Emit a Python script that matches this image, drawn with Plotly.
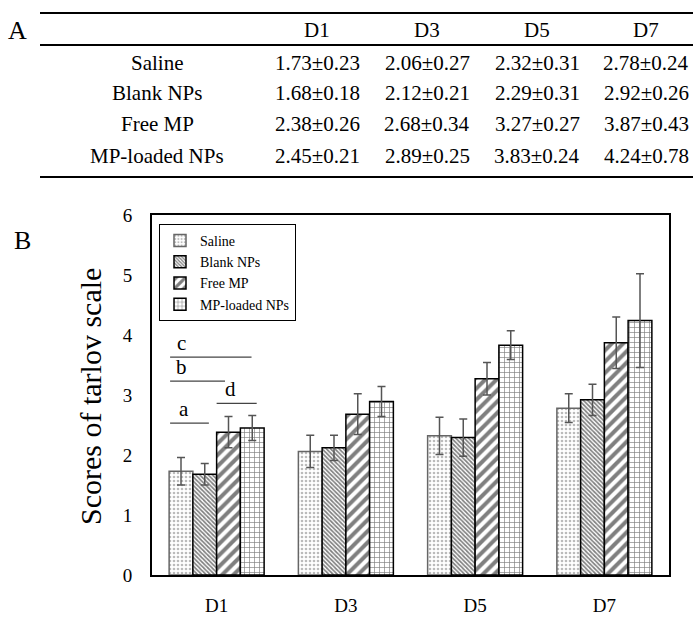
import plotly.graph_objects as go

days = ["D1", "D3", "D5", "D7"]
groups = ["Saline", "Blank NPs", "Free MP", "MP-loaded NPs"]
saline_mean = [1.73, 2.06, 2.32, 2.78]
saline_sd = [0.23, 0.27, 0.31, 0.24]
blank_mean = [1.68, 2.12, 2.29, 2.92]
blank_sd = [0.18, 0.21, 0.31, 0.26]
free_mean = [2.38, 2.68, 3.27, 3.87]
free_sd = [0.26, 0.34, 0.27, 0.43]
loaded_mean = [2.45, 2.89, 3.83, 4.24]
loaded_sd = [0.21, 0.25, 0.24, 0.78]
y_ticks = [0, 1, 2, 3, 4, 5, 6]

means = [saline_mean, blank_mean, free_mean, loaded_mean]
sds = [saline_sd, blank_sd, free_sd, loaded_sd]

W, H = 693, 620
L, R, T, B = 152, 24, 215, 45
PW, PH = W - L - R, H - T - B
FONT = "Liberation Serif"


def px(x):
    return (x - L) / PW


def py(y):
    return (H - B - y) / PH


patterns = [
    dict(shape=".", size=4, solidity=0.35, fgcolor="#777777", bgcolor="white"),
    dict(shape="\\", size=3, solidity=0.55, fgcolor="black", bgcolor="white"),
    dict(shape="/", size=8, solidity=0.5, fgcolor="black", bgcolor="white"),
    dict(shape="+", size=5, solidity=0.25, fgcolor="black", bgcolor="white"),
]
outline = ["#666666", "black", "black", "black"]

fig = go.Figure()
for g, m, s, pat, oc in zip(groups, means, sds, patterns, outline):
    fig.add_trace(go.Bar(
        name=g, x=days, y=m,
        marker=dict(color="white", pattern=pat, line=dict(color=oc, width=1.5)),
        error_y=dict(type="data", array=s, color="#555555", thickness=1.5, width=4),
    ))

ann = []
shapes = []

# Table (panel A)
col_x = [317, 427, 537, 646]
row_y = [63, 93, 124, 156]
for d, cx in zip(days, col_x):
    ann.append(dict(x=px(cx), y=py(30), text=d))
for g, m, s, ry in zip(groups, means, sds, row_y):
    ann.append(dict(x=px(157), y=py(ry), text=g))
    for mv, sv, cx in zip(m, s, col_x):
        ann.append(dict(x=px(cx), y=py(ry), text=f"{mv:.2f}\u00b1{sv:.2f}"))
for ly in [13, 45, 177]:
    shapes.append(dict(type="line", xref="paper", yref="paper",
                       x0=px(40), x1=px(700), y0=py(ly), y1=py(ly),
                       line=dict(color="black", width=2)))

for a in ann:
    a.update(xref="paper", yref="paper", showarrow=False,
             font=dict(family=FONT, size=21, color="black"),
             xanchor="center", yanchor="middle")

# Panel letters
ann.append(dict(x=px(17), y=py(30), xref="paper", yref="paper", text="A", showarrow=False,
                xanchor="center", yanchor="middle",
                font=dict(family=FONT, size=26, color="black")))
ann.append(dict(x=px(22), y=py(240), xref="paper", yref="paper", text="B", showarrow=False,
                xanchor="center", yanchor="middle",
                font=dict(family=FONT, size=26, color="black")))

# Y title
ann.append(dict(x=px(90), y=py(397), xref="paper", yref="paper", text="Scores of tarlov scale",
                textangle=-90, showarrow=False, xanchor="center", yanchor="middle",
                font=dict(family=FONT, size=30, color="black")))

# Significance lines
sig = [("a", -0.36, -0.06, 2.53, -0.25), ("d", 0.0, 0.31, 2.86, 0.11),
       ("b", -0.36, 0.065, 3.23, -0.27), ("c", -0.36, 0.27, 3.63, -0.27)]
for lab, x0, x1, yy, tx in sig:
    shapes.append(dict(type="line", xref="x", yref="y", x0=x0, x1=x1, y0=yy, y1=yy,
                       line=dict(color="#444444", width=1.2)))
    ann.append(dict(x=tx, y=yy, xref="x", yref="y", text=lab, showarrow=False,
                    xanchor="center", yanchor="bottom",
                    font=dict(family=FONT, size=21, color="black")))

fig.update_layout(
    width=W, height=H,
    margin=dict(l=L, r=R, t=T, b=B, autoexpand=False),
    paper_bgcolor="white", plot_bgcolor="white",
    barmode="group", bargap=0.265, bargroupgap=0,
    font=dict(family=FONT, color="black"),
    annotations=ann, shapes=shapes,
    legend=dict(x=px(159), y=py(224), xanchor="left", yanchor="top",
                bordercolor="black", borderwidth=1, bgcolor="white",
                font=dict(family=FONT, size=14, color="black"),
                itemwidth=30, tracegroupgap=0),
    showlegend=True,
)
fig.update_xaxes(showline=True, linecolor="black", linewidth=2, mirror=True,
                 ticks="", tickfont=dict(family=FONT, size=19), ticklabelstandoff=12,
                 showgrid=False, range=[-0.5, 3.5])
fig.update_yaxes(showline=True, linecolor="black", linewidth=2, mirror=True,
                 ticks="", tickfont=dict(family=FONT, size=19), ticklabelstandoff=14,
                 range=[0, 6], tickvals=y_ticks, showgrid=False, zeroline=False)

fig.write_html("out.html", config={"displayModeBar": False},
               post_script="document.body.style.margin='0';document.body.style.overflow='hidden';")
